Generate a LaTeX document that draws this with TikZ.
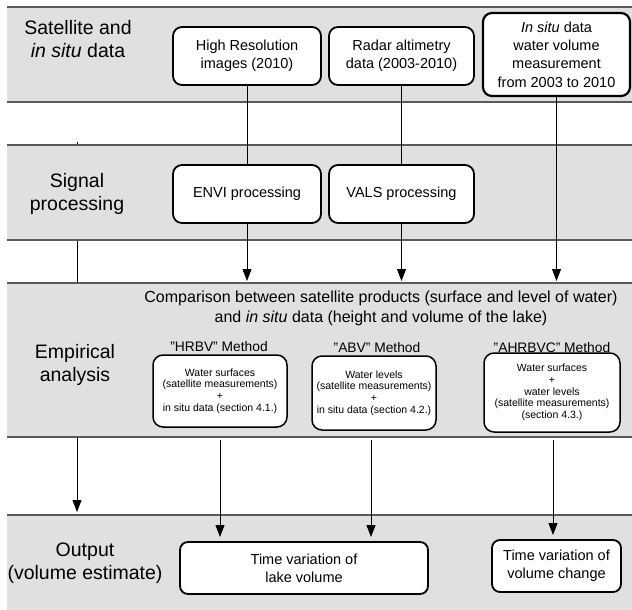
\documentclass[tikz,border=0pt]{standalone}
\usepackage{fontspec}
\setmainfont{Liberation Sans}
\usetikzlibrary{arrows.meta}
\definecolor{bandgray}{RGB}{224,224,224}
\definecolor{linegray}{RGB}{90,90,90}
\newcommand{\dq}{\symbol{34}}
\begin{document}
\begin{tikzpicture}[x=1pt,y=-1pt,
  bandfill/.style={fill=bandgray},
  bandline/.style={draw=linegray, line width=1.3pt},
  bandlabel/.style={align=center, inner sep=0pt, font=\fontsize{19.5}{23}\selectfont},
  topbox/.style={draw, line width=1.8pt, rounded corners=9pt, fill=white, align=center, inner sep=0pt, font=\fontsize{14.5}{18.3}\selectfont},
  methodbox/.style={draw, line width=1.5pt, rounded corners=10pt, fill=white, align=center, inner sep=0pt, font=\fontsize{10.5}{11.7}\selectfont},
  methodlabel/.style={inner sep=0pt, font=\fontsize{13.8}{16}\selectfont},
  conn/.style={draw=black, line width=0.9pt},
  arr/.style={conn, -{Triangle[length=12pt,width=9pt]}},
]
\useasboundingbox (0,0) rectangle (632,610);
\fill[white] (0,0) rectangle (632,610);

% left connector drawn behind the bands
\coordinate (ltop) at (77,142);
\coordinate (lbot) at (77,512);
\draw[arr] (ltop) -- (lbot);

% bands
\fill[bandfill] (7,7) rectangle (632,102);
\fill[bandfill] (7,145) rectangle (632,240);
\fill[bandfill] (7,283) rectangle (632,437);
\fill[bandfill] (7,515) rectangle (632,610);
\draw[bandline] (7,7) -- (632,7);
\draw[bandline] (7,102) -- (632,102);
\draw[bandline] (7,145) -- (632,145);
\draw[bandline] (7,240) -- (632,240);
\draw[bandline] (7,283) -- (632,283);
\draw[bandline] (7,437) -- (632,437);
\draw[bandline] (7,515) -- (632,515);

% band labels
\node[bandlabel] (l1) at (78,39) {Satellite and\\\textit{in situ} data};
\node[bandlabel] (l2) at (77,193.5) {Signal\\processing};
\node[bandlabel] (l3) at (75,365) {Empirical\\analysis};
\node[bandlabel] (l4) at (85,563.5) {Output\\(volume estimate)};

% top boxes
\node[topbox, minimum width=148pt, minimum height=58pt] (hr) at (247,56) {High Resolution\\images (2010)};
\node[topbox, minimum width=145pt, minimum height=58pt] (radar) at (401.5,56) {Radar altimetry\\data (2003-2010)};
\node[topbox, line width=2.2pt, minimum width=147pt, minimum height=83pt] (insitu) at (556.5,54.5) {\textit{In situ} data\\water volume\\measurement\\from 2003 to 2010};

\node[topbox, minimum width=148pt, minimum height=58pt] (envi) at (247,194) {ENVI processing};
\node[topbox, minimum width=145pt, minimum height=58pt] (vals) at (401.5,194) {VALS processing};

\coordinate (e1) at (247,281);
\coordinate (e2) at (401.5,281);
\coordinate (e3) at (556.5,281);

\draw[conn] (hr.south) -- (envi.north);
\draw[conn] (radar.south) -- (vals.north);
\draw[arr] (envi.south) -- (e1);
\draw[arr] (vals.south) -- (e2);
\draw[arr] (insitu.south) -- (e3);

% comparison text
\node[align=center, inner sep=0pt, font=\fontsize{16}{20}\selectfont] (cmp) at (381,308)
  {Comparison between satellite products (surface and level of water)\\and \textit{in situ} data (height and volume of the lake)};

% method labels
\node[methodlabel] (m1) at (219,347) {\dq HRBV\dq{} Method};
\node[methodlabel] (m2) at (377,348) {\dq ABV\dq{} Method};
\node[methodlabel] (m3) at (552,348) {\dq AHRBVC\dq{} Method};

% method boxes
\node[methodbox, minimum width=134pt, minimum height=72pt] (b1) at (220,391)
  {Water surfaces\\(satellite measurements)\\+\\in situ data (section 4.1.)};
\node[methodbox, minimum width=124pt, minimum height=74pt] (b2) at (374,393)
  {Water levels\\(satellite measurements)\\+\\in situ data (section 4.2.)};
\node[methodbox, minimum width=136pt, minimum height=79pt] (b3) at (552,392.5)
  {Water surfaces\\+\\water levels\\(satellite measurements)\\(section 4.3.)};

% output boxes
\node[topbox, rounded corners=8pt, minimum width=248pt, minimum height=52pt] (lake) at (304,568)
  {Time variation of\\lake volume};
\node[topbox, rounded corners=8pt, minimum width=129pt, minimum height=52pt] (change) at (556.5,566)
  {Time variation of\\volume change};

\coordinate (s1) at (220,440);
\coordinate (s2) at (371,440);
\coordinate (s3) at (553,440);
\coordinate (t1) at (220,537);
\coordinate (t2) at (371,537);
\coordinate (t3) at (553,535);
\draw[arr] (s1) -- (t1);
\draw[arr] (s2) -- (t2);
\draw[arr] (s3) -- (t3);
\end{tikzpicture}
\end{document}
